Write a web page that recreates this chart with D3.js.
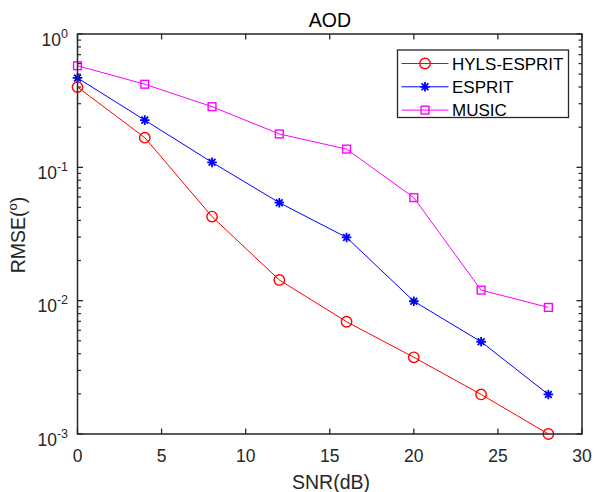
<!DOCTYPE html>
<html><head><meta charset="utf-8">
<script src="https://cdn.jsdelivr.net/npm/d3@7"></script>
<style>
body{margin:0;background:#fff;}
svg{display:block;font-family:"Liberation Sans",Arial,sans-serif;}
</style></head>
<body><svg id="c" width="594" height="492"></svg>
<script>
const snr = [0, 4, 8, 12, 16, 20, 24, 28];
const hyls = [0.40, 0.167, 0.0427, 0.0143, 0.00695, 0.00376, 0.00198, 0.001];
const esprit = [0.468, 0.226, 0.109, 0.0543, 0.0298, 0.0099, 0.00492, 0.00198];
const music = [0.578, 0.42, 0.285, 0.178, 0.137, 0.0592, 0.012, 0.0089];
const seriesNames = ["HYLS-ESPRIT", "ESPRIT", "MUSIC"];
const seriesColors = ["#ff0000", "#0000ff", "#ff00ff"];
const seriesMarkers = ["circle", "star", "square"];
const xTicks = [0, 5, 10, 15, 20, 25, 30];
const yTickExps = [0, -1, -2, -3];

const svg = d3.select("#c");
const L = 77.5, R = 582, T = 34, B = 434;
const x = d3.scaleLinear().domain([0, 30]).range([L, R]);
const y = d3.scaleLog().domain([1e-3, 1]).range([B, T]);
const axisColor = "#262626";

const g = svg.append("g");
const allSeries = [hyls, esprit, music];
const line = d3.line().x((d, i) => x(snr[i])).y(d => y(d));
function drawMarker(sel, type, color) {
  if (type === "circle") {
    sel.append("circle").attr("r", 5.2).attr("fill", "none").attr("stroke", color).attr("stroke-width", 1.4);
  } else if (type === "square") {
    sel.append("rect").attr("x", -3.9).attr("y", -3.9).attr("width", 7.8).attr("height", 7.8)
      .attr("fill", "none").attr("stroke", color).attr("stroke-width", 1.4);
  } else {
    const r = 4.8;
    const p = [];
    for (let k = 0; k < 4; k++) {
      const a = k * Math.PI / 4;
      p.push(`M${-r*Math.cos(a)},${-r*Math.sin(a)}L${r*Math.cos(a)},${r*Math.sin(a)}`);
    }
    sel.append("path").attr("d", p.join("")).attr("stroke", color).attr("stroke-width", 1.8).attr("fill", "none");
  }
}
allSeries.forEach((s, si) => {
  g.append("path").datum(s).attr("d", line).attr("fill", "none")
    .attr("stroke", seriesColors[si]).attr("stroke-width", 1);
  s.forEach((v, i) => {
    const m = g.append("g").attr("transform", `translate(${x(snr[i])},${y(v)})`);
    drawMarker(m, seriesMarkers[si], seriesColors[si]);
  });
});

const ax = svg.append("g").attr("stroke", axisColor).attr("fill", "none");
ax.append("rect").attr("x", L).attr("y", T).attr("width", R - L).attr("height", B - T).attr("stroke-width", 1.5);

xTicks.forEach(t => {
  const xp = x(t);
  ax.append("line").attr("x1", xp).attr("x2", xp).attr("y1", B).attr("y2", B - 5.5).attr("stroke-width", 1.3);
  ax.append("line").attr("x1", xp).attr("x2", xp).attr("y1", T).attr("y2", T + 5.5).attr("stroke-width", 1.3);
  svg.append("text").attr("x", xp).attr("y", B + 28).attr("text-anchor", "middle")
    .attr("font-size", 17.5).attr("fill", axisColor).text(t);
});

yTickExps.forEach(e => {
  const yp = y(Math.pow(10, e));
  ax.append("line").attr("x1", L).attr("x2", L + 5.5).attr("y1", yp).attr("y2", yp).attr("stroke-width", 1.3);
  ax.append("line").attr("x1", R).attr("x2", R - 5.5).attr("y1", yp).attr("y2", yp).attr("stroke-width", 1.3);
  const tx = svg.append("text").attr("x", 68).attr("y", yp + 11.5).attr("text-anchor", "end")
    .attr("font-size", 17.5).attr("fill", axisColor);
  tx.append("tspan").text("10");
  tx.append("tspan").attr("dy", -8).attr("font-size", 12.5).text(e === 0 ? "0" : "-" + Math.abs(e));
});
[-3, -2, -1].forEach(e => {
  for (let m = 2; m <= 9; m++) {
    const yp = y(m * Math.pow(10, e));
    ax.append("line").attr("x1", L).attr("x2", L + 3.5).attr("y1", yp).attr("y2", yp).attr("stroke-width", 1.2);
    ax.append("line").attr("x1", R).attr("x2", R - 3.5).attr("y1", yp).attr("y2", yp).attr("stroke-width", 1.2);
  }
});

svg.append("text").attr("x", 330).attr("y", 26.5).attr("text-anchor", "middle")
  .attr("font-size", 19.5).attr("fill", "#000").text("AOD");
svg.append("text").attr("x", 331).attr("y", 489).attr("text-anchor", "middle")
  .attr("font-size", 19.5).attr("fill", axisColor).text("SNR(dB)");
const yl = svg.append("text").attr("transform", "translate(25,235) rotate(-90)").attr("text-anchor", "middle")
  .attr("font-size", 19.5).attr("fill", axisColor);
yl.append("tspan").text("RMSE(");
yl.append("tspan").attr("dy", -8).attr("font-size", 13).text("o");
yl.append("tspan").attr("dy", 8).text(")");

const lg = svg.append("g");
lg.append("rect").attr("x", 397.5).attr("y", 50).attr("width", 171).attr("height", 67.5)
  .attr("fill", "#fff").attr("stroke", axisColor).attr("stroke-width", 1.3);
seriesNames.forEach((n, i) => {
  const yy = 63.5 + i * 23.3;
  lg.append("line").attr("x1", 401.5).attr("x2", 448.5).attr("y1", yy).attr("y2", yy)
    .attr("stroke", seriesColors[i]).attr("stroke-width", 1);
  const m = lg.append("g").attr("transform", `translate(425,${yy})`);
  drawMarker(m, seriesMarkers[i], seriesColors[i]);
  lg.append("text").attr("x", 452).attr("y", yy + 6.2).attr("font-size", 17).attr("fill", "#000").text(n);
});
</script></body></html>
